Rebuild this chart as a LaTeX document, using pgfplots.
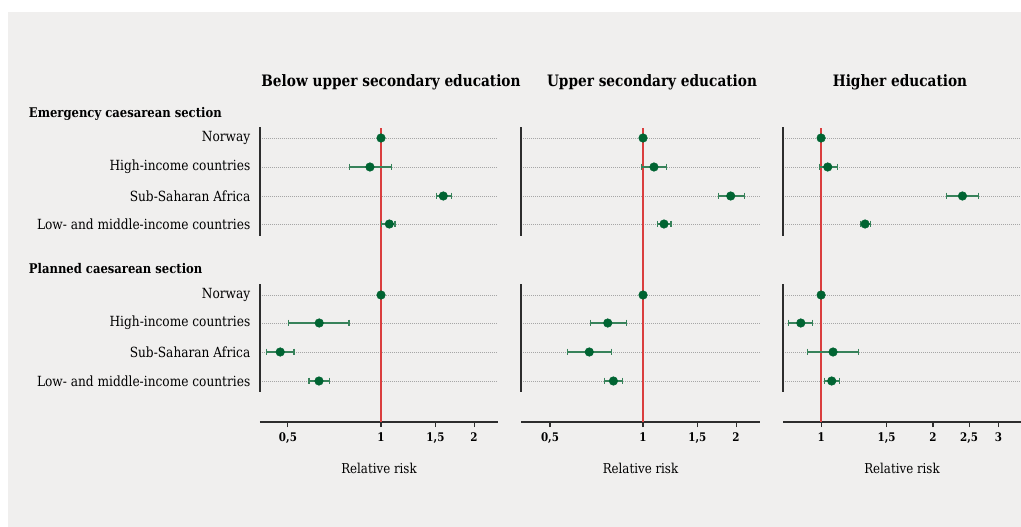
\documentclass[border=0pt]{standalone}
\usepackage{fontspec}
\setmainfont{DejaVu Serif}[FakeStretch=0.87]
\usepackage{pgfplots}
\pgfplotsset{compat=1.18}

\definecolor{bg}{RGB}{240,239,238}
\definecolor{dotgreen}{RGB}{0,100,50}
\definecolor{cigreen}{RGB}{55,130,90}
\definecolor{refred}{RGB}{218,62,62}
\definecolor{axisgray}{RGB}{45,45,45}

% 1 px of the reference = 0.75pt
\pgfplotsset{
  mypanel/.style={
    scale only axis,
    height=222pt,
    ymin=126, ymax=422, y dir=reverse,
    clip=false,
    axis x line*=bottom,
    axis y line*=left,
    y axis line style={draw=none},
    x axis line style={axisgray, line width=0.9pt},
    ytick={138,167,196,224,295,323,352,381},
    yticklabels={},
    ytick style={draw=none},
    ymajorgrids,
    grid style={gray!70, dash pattern=on 0.6pt off 0.9pt, line width=0.55pt},
    tick align=outside,
    major tick length=3.75pt,
    minor xtick={},
    xtick style={axisgray, line width=0.8pt},
    xticklabel style={font=\bfseries\fontsize{8.9}{10}\selectfont, yshift=-1pt},
    yticklabel style={font=\fontsize{10.5}{12}\selectfont},
    xlabel={Relative risk},
    xlabel style={font=\fontsize{10.2}{12}\selectfont, yshift=-7.5pt},
  },
  myci/.style={cigreen, line width=0.9pt, mark=|, mark size=2.6pt,
    mark options={solid, line width=0.8pt}, unbounded coords=jump},
  myest/.style={only marks, mark=*, mark size=3.2pt,
    mark options={draw=dotgreen, fill=dotgreen}},
  myref/.style={refred, line width=1pt},
  mygrp/.style={axisgray, line width=1pt},
}

\begin{document}
\begin{tikzpicture}
\fill[white] (0,0) rectangle (765.75pt,-395.25pt);
\fill[bg] (6pt,-9pt) rectangle (765.75pt,-395.25pt);

% column titles
\node[anchor=base, font=\bfseries\fontsize{11.8}{13}\selectfont] at (293.25pt,-65.25pt) {Below upper secondary education};
\node[anchor=base, font=\bfseries\fontsize{11.8}{13}\selectfont] at (489pt,-65.25pt) {Upper secondary education};
\node[anchor=base, font=\bfseries\fontsize{11.8}{13}\selectfont] at (675pt,-65.25pt) {Higher education};
% group titles
\node[anchor=base west, inner sep=0pt, font=\bfseries\fontsize{10}{12}\selectfont] at (21.5pt,-88.1pt) {Emergency caesarean section};
\node[anchor=base west, inner sep=0pt, font=\bfseries\fontsize{10}{12}\selectfont] at (21.5pt,-205.1pt) {Planned caesarean section};

% panel 1: below upper secondary education
\begin{semilogxaxis}[mypanel, at={(195pt,-316.5pt)}, anchor=south west,
  width=178.5pt, xmin=0.406, xmax=2.39,
  xtick={0.5,1,1.5,2}, xticklabels={{0,5},1,{1,5},2},
  yticklabels={Norway,High-income countries,Sub-Saharan Africa,Low- and middle-income countries,
               Norway,High-income countries,Sub-Saharan Africa,Low- and middle-income countries}]
  \addplot[mygrp] coordinates {(0.406,127) (0.406,236)};
  \addplot[mygrp] coordinates {(0.406,284) (0.406,392)};
  \addplot[myref] coordinates {(1,128) (1,422)};
  \addplot[myci] coordinates {
    (0.792,167) (1.083,167) (nan,nan)
    (1.507,196) (1.693,196) (nan,nan)
    (1.005,224) (1.110,224) (nan,nan)
    (0.503,323) (0.788,323) (nan,nan)
    (0.427,352) (0.523,352) (nan,nan)
    (0.585,381) (0.680,381)};
  \addplot[myest] coordinates {
    (1,138) (0.921,167) (1.59,196) (1.064,224)
    (1,295) (0.631,323) (0.472,352) (0.630,381)};
\end{semilogxaxis}

% panel 2: upper secondary education
\begin{semilogxaxis}[mypanel, at={(390.75pt,-316.5pt)}, anchor=south west,
  width=179.25pt, xmin=0.4028, xmax=2.391,
  xtick={0.5,1,1.5,2}, xticklabels={{0,5},1,{1,5},2}]
  \addplot[mygrp] coordinates {(0.4028,127) (0.4028,236)};
  \addplot[mygrp] coordinates {(0.4028,284) (0.4028,392)};
  \addplot[myref] coordinates {(1,128) (1,422)};
  \addplot[myci] coordinates {
    (0.988,167) (1.193,167) (nan,nan)
    (1.753,196) (2.130,196) (nan,nan)
    (1.116,224) (1.232,224) (nan,nan)
    (0.674,323) (0.885,323) (nan,nan)
    (0.570,352) (0.788,352) (nan,nan)
    (0.750,381) (0.860,381)};
  \addplot[myest] coordinates {
    (1,138) (1.085,167) (1.922,196) (1.169,224)
    (1,295) (0.769,323) (0.670,352) (0.802,381)};
\end{semilogxaxis}

% panel 3: higher education
\begin{semilogxaxis}[mypanel, at={(587.25pt,-316.5pt)}, anchor=south west,
  width=178.5pt, xmin=0.790, xmax=3.449,
  xtick={1,1.5,2,2.5,3}, xticklabels={1,{1,5},2,{2,5},3}]
  \addplot[mygrp] coordinates {(0.790,127) (0.790,236)};
  \addplot[mygrp] coordinates {(0.790,284) (0.790,392)};
  \addplot[myref] coordinates {(1,128) (1,422)};
  \addplot[myci] coordinates {
    (0.988,167) (1.104,167) (nan,nan)
    (2.18,196) (2.65,196) (nan,nan)
    (1.273,224) (1.357,224) (nan,nan)
    (0.819,323) (0.950,323) (nan,nan)
    (0.921,352) (1.263,352) (nan,nan)
    (1.019,381) (1.120,381)};
  \addplot[myest] coordinates {
    (1,138) (1.042,167) (2.40,196) (1.313,224)
    (1,295) (0.882,323) (1.077,352) (1.068,381)};
\end{semilogxaxis}

\pgfresetboundingbox
\useasboundingbox (0,0) rectangle (765.75pt,-395.25pt);
\end{tikzpicture}
\end{document}
